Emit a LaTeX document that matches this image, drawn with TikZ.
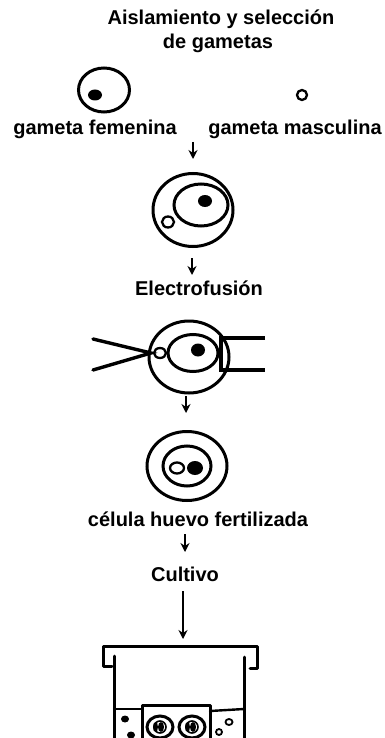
\documentclass[tikz,border=0pt]{standalone}
\usepackage{fontspec}
\setmainfont{Liberation Sans}
\usetikzlibrary{shapes.geometric,arrows.meta}
\begin{document}
\begin{tikzpicture}[x=1pt,y=-1pt,
  lbl/.style={font=\bfseries\fontsize{20}{24}\selectfont, inner sep=0pt, anchor=base},
  ring/.style={draw, ellipse, line width=3pt, inner sep=0pt},
  thinring/.style={draw, ellipse, line width=2.3pt, inner sep=0pt, fill=white},
  nuc/.style={fill, ellipse, inner sep=0pt},
  flow/.style={-{Stealth[length=9pt,width=9pt]}, line width=2.2pt},
  tool/.style={line width=3.4pt, line cap=round},
  vessel/.style={line width=3pt, line cap=round, line join=round}]
\useasboundingbox (0,0) rectangle (384,738);

% title
\node[lbl] (title) at (221,25) {Aislamiento y selección};
\node[lbl] (title2) at (218,49) {de gametas};

% the two gametes
\node[ring, minimum width=51pt, minimum height=44pt] (fem) at (104,90) {};
\node[nuc, minimum width=14pt, minimum height=11pt] (femnuc) at (95,95) {};
\node[thinring, minimum width=10pt, minimum height=10pt] (masc) at (302,95) {};
\node[lbl] (femlbl) at (95,135) {gameta femenina};
\node[lbl] (masclbl) at (295,135) {gameta masculina};

% gametes brought together
\node[ring, minimum width=80pt, minimum height=73pt] (pair) at (193,210) {};
\node[ring, minimum width=54pt, minimum height=42pt] (pairin) at (201,205) {};
\node[nuc, minimum width=14pt, minimum height=12pt] (pairnuc) at (205,201) {};
\node[thinring, minimum width=12pt, minimum height=11pt] (pairm) at (168,222) {};

\coordinate (a1s) at (193,142); \coordinate (a1e) at (193,159);
\draw[flow] (a1s) -- (a1e);

\coordinate (a2s) at (192,258); \coordinate (a2e) at (192,275);
\draw[flow] (a2s) -- (a2e);
\node[lbl] (fusion) at (199,295) {Electrofusión};

% electrofusion between pipette and holder
\node[ring, minimum width=80pt, minimum height=72pt] (fuse) at (189,357) {};
\node[ring, minimum width=50pt, minimum height=37pt] (fusein) at (193,353) {};
\node[nuc, minimum width=14pt, minimum height=13pt] (fusenuc) at (198,350) {};
\node[thinring, minimum width=12pt, minimum height=10pt] (fusem) at (160,353) {};
\coordinate (pipa) at (93,339); \coordinate (pipb) at (93,370);
\coordinate (piptip) at (151,353);
\draw[tool] (pipa) -- (piptip) -- (pipb);
\coordinate (hta) at (265,338); \coordinate (htb) at (265,370);
\coordinate (hca) at (221,338); \coordinate (hcb) at (221,370);
\draw[tool, line cap=butt] (hta) -- (hca) -- (hcb) -- (htb);

\coordinate (a3s) at (186,396); \coordinate (a3e) at (186,413);
\draw[flow] (a3s) -- (a3e);

% fertilised egg cell
\node[ring, minimum width=80pt, minimum height=69pt] (egg) at (187,466) {};
\node[ring, minimum width=48pt, minimum height=40pt] (eggin) at (187,466) {};
\node[thinring, minimum width=14pt, minimum height=11pt] (pron1) at (177,468) {};
\node[nuc, minimum width=16pt, minimum height=14pt] (pron2) at (195,468) {};
\node[lbl] (egglbl) at (198,526) {célula huevo fertilizada};

\coordinate (a4s) at (185,534); \coordinate (a4e) at (185,552);
\draw[flow] (a4s) -- (a4e);
\node[lbl] (cult) at (185,581) {Cultivo};
\coordinate (a5s) at (183,591); \coordinate (a5e) at (183,639);
\draw[flow] (a5s) -- (a5e);

% culture vessel with lid
\draw[vessel] (112,666) -- (103,666) -- (103,646) -- (257,646) -- (257,668) -- (250,668);
\draw[vessel] (114,656) -- (114,740);
\draw[vessel] (244,657) -- (244,740);
% medium surface and insert
\draw[vessel, line width=2.4pt] (114,709) -- (142,709);
\draw[vessel] (142,740) -- (142,705) -- (210,705) -- (210,740);
\draw[vessel, line width=2.4pt] (210,711) -- (244,709);
% embryos in the insert
\foreach \cx/\nm in {160/e1,192/e2}{
  \node[ring, line width=3pt, minimum width=26pt, minimum height=22pt] (\nm) at (\cx,727) {};
  \node[draw, circle, line width=1.6pt, minimum size=12pt, inner sep=0pt] (\nm in) at (\cx,727) {};
  \fill (\cx-4.5,727) ellipse (2.5pt and 5pt);
  \fill (\cx+1,727) ellipse (3pt and 5pt);
}
% particles in the medium
\fill (125,719) ellipse (4pt and 3.5pt);
\fill (131,735) ellipse (4pt and 3.5pt);
\draw[line width=1.8pt] (229,722) ellipse (3.5pt and 3pt);
\draw[line width=1.8pt] (219,732) ellipse (3pt and 3pt);
\end{tikzpicture}
\end{document}
